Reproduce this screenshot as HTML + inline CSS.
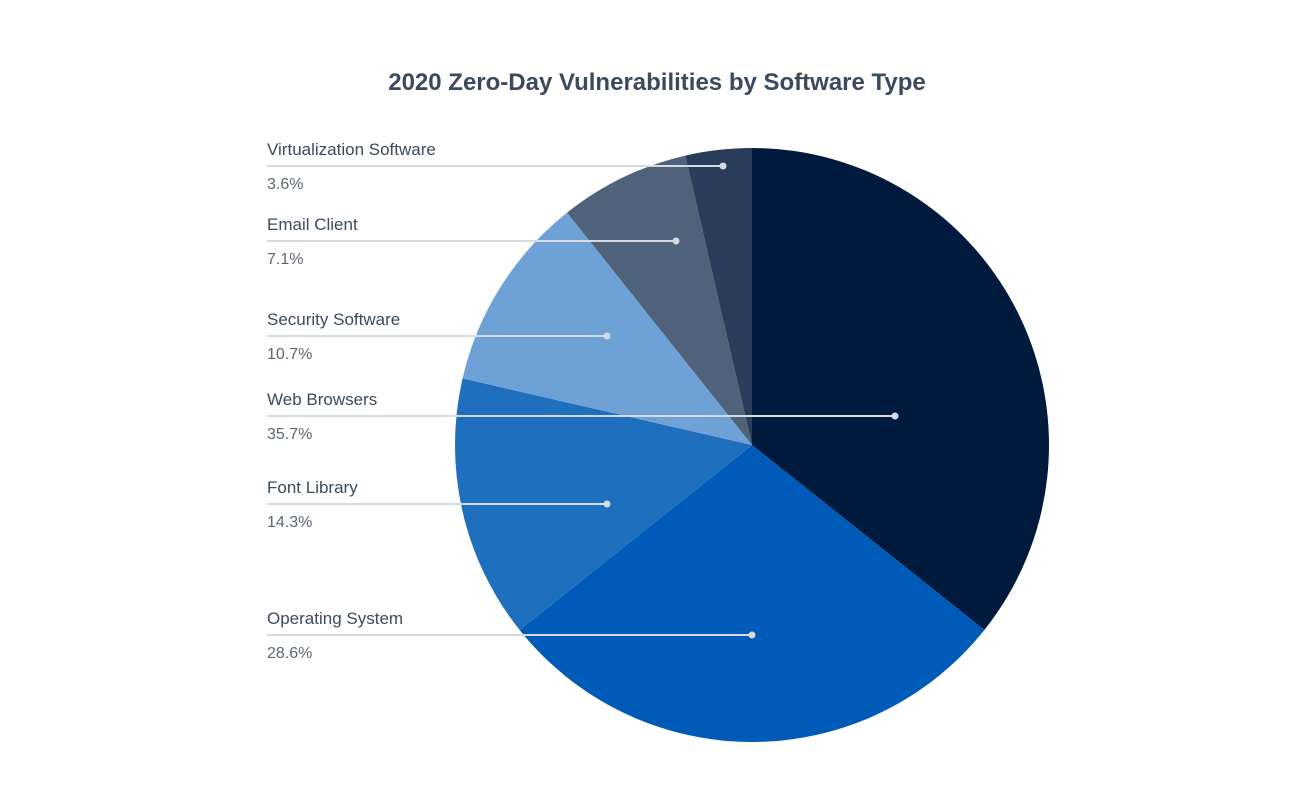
<!DOCTYPE html>
<html><head><meta charset="utf-8">
<style>
body{margin:0;background:#fff;}
svg{display:block;font-family:"Liberation Sans",sans-serif;}
</style></head>
<body>
<svg id="chart" width="1314" height="785">
<text x="657" y="90" text-anchor="middle" font-size="24" font-weight="bold" fill="#3b4a5e">2020 Zero-Day Vulnerabilities by Software Type</text>
<g id="slices"></g>
<g id="labels"></g>
</svg>
<script>
const categories = ["Web Browsers","Operating System","Font Library","Security Software","Email Client","Virtualization Software"];
const values = [35.7,28.6,14.3,10.7,7.1,3.6];
const valueLabels = ["35.7%","28.6%","14.3%","10.7%","7.1%","3.6%"];
const colors = ["#001a3d","#005bb8","#1f6fbf","#6ea2d6","#50617a","#2a3c5a"];
// layout: leader line y and dot x for each label
const lineY = [416,635,504,336,241,166];
const dotX = [895,752,607,607,676,723];

const cx=752, cy=445, r=297;
const NS="http://www.w3.org/2000/svg";
const total = values.reduce((a,b)=>a+b,0);
const gS=document.getElementById('slices'), gL=document.getElementById('labels');
function pt(a){return [cx+r*Math.sin(a), cy-r*Math.cos(a)];}
let acc=0;
values.forEach((v,i)=>{
  const a0=acc/total*2*Math.PI; acc+=v; const a1=acc/total*2*Math.PI;
  const p0=pt(a0), p1=pt(a1);
  const large=(a1-a0)>Math.PI?1:0;
  const path=document.createElementNS(NS,'path');
  path.setAttribute('d',`M${cx},${cy}L${p0[0]},${p0[1]}A${r},${r} 0 ${large} 1 ${p1[0]},${p1[1]}Z`);
  path.setAttribute('fill',colors[i]);
  
  
  gS.appendChild(path);
});
categories.forEach((c,i)=>{
  const y=lineY[i];
  const line=document.createElementNS(NS,'line');
  line.setAttribute('x1',267);line.setAttribute('x2',dotX[i]);
  line.setAttribute('y1',y);line.setAttribute('y2',y);
  line.setAttribute('stroke','#d6dbe1');line.setAttribute('stroke-width','2');
  
  
  gL.appendChild(line);
  const dot=document.createElementNS(NS,'circle');
  dot.setAttribute('cx',dotX[i]);dot.setAttribute('cy',y);dot.setAttribute('r',3.5);
  dot.setAttribute('fill','#d6dbe1');
  
  
  gL.appendChild(dot);
  const t=document.createElementNS(NS,'text');
  t.setAttribute('x',267);t.setAttribute('y',y-11);
  t.setAttribute('font-size','17');t.setAttribute('fill','#3b4a5e');
  t.textContent=c;
  
  
  gL.appendChild(t);
  const p=document.createElementNS(NS,'text');
  p.setAttribute('x',267);p.setAttribute('y',y+23);
  p.setAttribute('font-size','16');p.setAttribute('fill','#5c6675');
  p.textContent=valueLabels[i];
  
  
  gL.appendChild(p);
});
</script>
</body></html>
